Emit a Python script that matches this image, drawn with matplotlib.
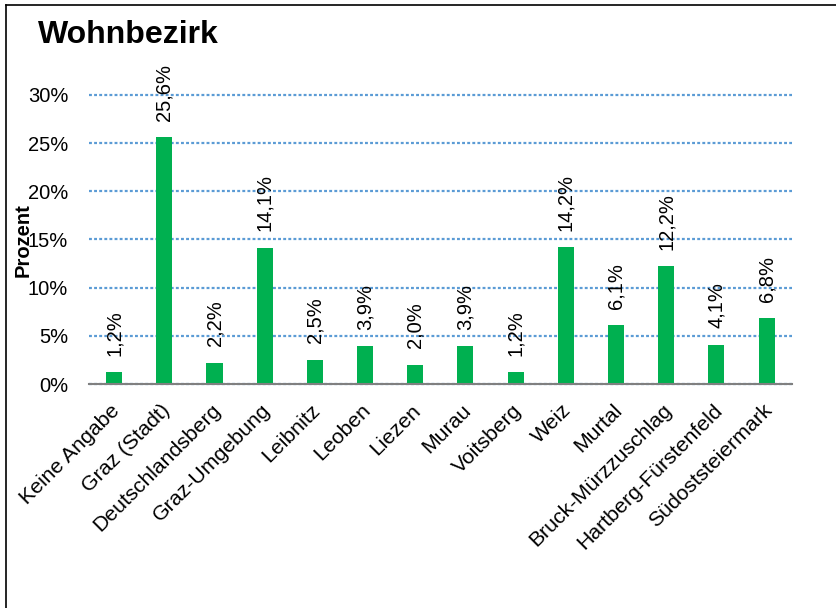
import matplotlib
matplotlib.use("Agg")
import matplotlib.pyplot as plt
from matplotlib.lines import Line2D
from matplotlib.ticker import FuncFormatter
from matplotlib.transforms import ScaledTranslation

categories = ["Keine Angabe", "Graz (Stadt)", "Deutschlandsberg", "Graz-Umgebung",
              "Leibnitz", "Leoben", "Liezen", "Murau", "Voitsberg", "Weiz", "Murtal",
              "Bruck-Mürzzuschlag", "Hartberg-Fürstenfeld", "Südoststeiermark"]
values = [1.2, 25.6, 2.2, 14.1, 2.5, 3.9, 2.0, 3.9, 1.2, 14.2, 6.1, 12.2, 4.1, 6.8]
yticks = [0, 5, 10, 15, 20, 25, 30]

plt.rcParams['font.family'] = ['Liberation Sans', 'DejaVu Sans']

fig = plt.figure(figsize=(8.36, 6.08), dpi=100)
ax = fig.add_axes([0.1065, 0.3684, 0.8405, 0.4754])

x = list(range(len(categories)))
ax.bar(x, values, width=0.32, color="#00B050", zorder=3)
ax.set_xlim(-0.5, len(categories) - 0.5)
ax.set_ylim(0, 30)
ax.set_yticks(yticks)
ax.yaxis.set_major_formatter(FuncFormatter(lambda v, p: f"{int(v)}%"))
ax.grid(axis="y", linestyle=(0, (1.3, 1.0)), color="#5B9BD5", linewidth=1.6, zorder=0)
for gl in ax.get_ygridlines():
    gl.set_clip_on(False)
ax.set_axisbelow(True)
for s in ["top", "right", "left"]:
    ax.spines[s].set_visible(False)
ax.spines["bottom"].set_color("#808080")
ax.spines["bottom"].set_linewidth(1.5)
ax.spines["bottom"].set_zorder(4)
ax.tick_params(axis="y", length=0, labelsize=14.5, pad=15)
ax.set_xticks(x)
ax.set_xticklabels(categories, rotation=45, ha="right", rotation_mode="anchor")
ax.tick_params(axis="x", length=0, labelsize=15.3, pad=12)
for lbl in ax.get_xticklabels():
    lbl.set_transform(lbl.get_transform() + ScaledTranslation(-4/100, 0, fig.dpi_scale_trans))

for xi, v in zip(x, values):
    ax.annotate(f"{v:.1f}%".replace(".", ","), (xi, v), xytext=(0, 12),
                textcoords="offset points", rotation=90, ha="center", va="bottom",
                fontsize=14.5, annotation_clip=False)

fig.text(0.045, 0.943, "Wohnbezirk", fontsize=23, fontweight="bold", va="center", ha="left")
fig.text(0.028, 0.605, "Prozent", fontsize=14.5, fontweight="bold", rotation=90,
         va="center", ha="center")

fig.add_artist(Line2D([6/836, 1.0], [1 - 5/608, 1 - 5/608], color="black", linewidth=1.2,
                      transform=fig.transFigure))
fig.add_artist(Line2D([6/836, 6/836], [0, 1 - 5/608], color="black", linewidth=1.2,
                      transform=fig.transFigure))

fig.savefig("out.png", dpi=100)
